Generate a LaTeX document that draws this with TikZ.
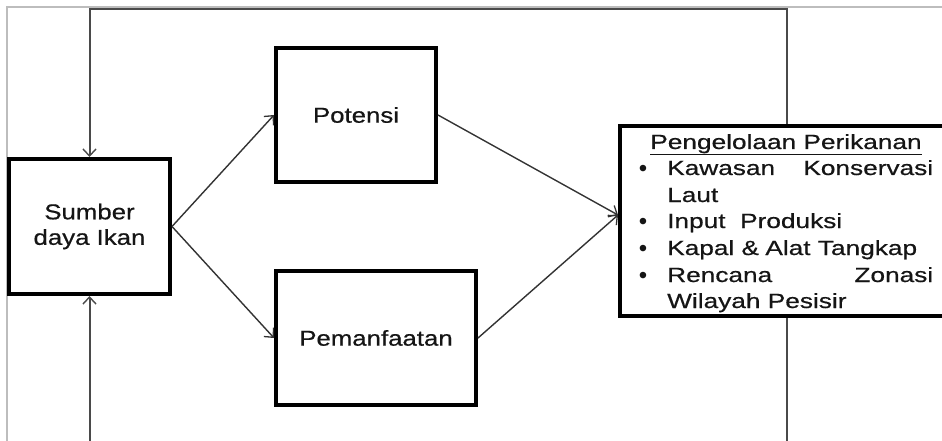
\documentclass[tikz,border=0pt]{standalone}
\usepackage{fontspec}
\setmainfont{Liberation Sans}
\newfontfamily\boxfont[FakeStretch=1.2,FakeBold=0.6]{Liberation Sans}
\newfontfamily\listfont[FakeStretch=1.28,FakeBold=0.6]{Liberation Sans}
\usetikzlibrary{arrows.meta}
\definecolor{conn}{HTML}{333333}
\definecolor{feed}{HTML}{4A4A4A}
\definecolor{frame}{HTML}{BDBDBD}
\definecolor{txt}{HTML}{151515}
\begin{document}
\begin{tikzpicture}[x=1pt,y=-1pt,
  blockbox/.style={draw=black, line width=4pt, rectangle, inner sep=0pt, align=center,
    font=\boxfont\fontsize{21.5}{25.5}\selectfont, text=txt},
  listline/.style={anchor=base west, inner sep=0pt, font=\listfont\fontsize{20.5}{26}\selectfont, text=txt},
  bulletdot/.style={anchor=base, inner sep=0pt, font=\fontsize{24}{24}\selectfont, text=txt},
  connarrow/.style={draw=conn, line width=1.4pt, -{Straight Barb[length=7pt,width=13pt,line width=1.3pt]}},
  feedline/.style={draw=feed, line width=2pt},
  feedarrow/.style={feedline, -{Straight Barb[length=7pt,width=13pt,line width=1.4pt]}}
]
\clip (0,0) rectangle (942,441);
\fill[white] (0,0) rectangle (942,441);
% thin frame
\draw[frame, line width=1.2pt] (950,7) -| (7,450);

% boxes
\node[blockbox, minimum width=161pt, minimum height=135pt] (sumber) at (89.5,226.5) {Sumber\\daya Ikan};
\node[blockbox, minimum width=160pt, minimum height=134pt] (potensi) at (356,115) {Potensi};
\node[blockbox, minimum width=200pt, minimum height=134pt] (pem) at (376,338) {Pemanfaatan};
\node[blockbox, minimum width=333pt, minimum height=190pt] (peng) at (786.5,221) {};

% list text
\node[anchor=base, inner sep=0pt, font=\listfont\fontsize{20.5}{26}\selectfont, text=txt] (title) at (786,149) {\underline{Pengelolaan Perikanan}};
\node[bulletdot] (b1) at (643,176) {•};
\node[listline] (l1) at (667,175) {\makebox[266pt]{Kawasan\hfill Konservasi}};
\node[listline] (l2) at (667,202) {Laut};
\node[bulletdot] (b2) at (643,229) {•};
\node[listline] (l3) at (667,228) {Input\ \ Produksi};
\node[bulletdot] (b3) at (643,256) {•};
\node[listline] (l4) at (667,255) {Kapal \&\kern-1pt\ Alat Tangkap};
\node[bulletdot] (b4) at (643,283) {•};
\node[listline] (l5) at (667,282) {\makebox[266pt]{Rencana\hfill Zonasi}};
\node[listline] (l6) at (667,308) {Wilayah Pesisir};

% connectors
\draw[connarrow] (sumber.east) -- (potensi.west);
\draw[connarrow] (sumber.east) -- (pem.west);
\draw[connarrow] (potensi.east) -- ([yshift=6pt]peng.west);
\draw[connarrow] (pem.east) -- ([yshift=6pt]peng.west);

% feedback lines
\coordinate (topc) at (400,9.5);
\coordinate (botl) at (89.5,450);
\coordinate (botr) at (786.5,450);
\draw[feedarrow] (peng.north) |- (topc) -| (sumber.north);
\draw[feedarrow] (botl) -- (sumber.south);
\draw[feedline] (peng.south) -- (botr);
\end{tikzpicture}
\end{document}
